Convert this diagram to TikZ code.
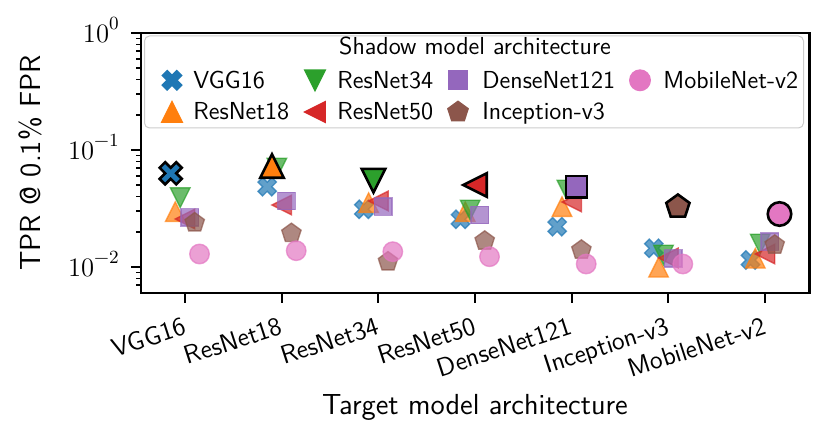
\documentclass[tikz,border=0pt]{standalone}
\usepackage{fontspec}
\definecolor{tabblue}{HTML}{1F77B4}
\definecolor{taborange}{HTML}{FF7F0E}
\definecolor{tabgreen}{HTML}{2CA02C}
\definecolor{tabred}{HTML}{D62728}
\definecolor{tabpurple}{HTML}{9467BD}
\definecolor{tabbrown}{HTML}{8C564B}
\definecolor{tabpink}{HTML}{E377C2}
\definecolor{leggray}{gray}{0.8}
% marker shapes (unit size, local y points down)
\newcommand\shpX[1]{\path[#1,rotate=45] (-0.1667,-0.5) -- (0.1667,-0.5) -- (0.1667,-0.1667) -- (0.5,-0.1667) -- (0.5,0.1667) -- (0.1667,0.1667) -- (0.1667,0.5) -- (-0.1667,0.5) -- (-0.1667,0.1667) -- (-0.5,0.1667) -- (-0.5,-0.1667) -- (-0.1667,-0.1667) -- cycle;}
\newcommand\shpU[1]{\path[#1] (0,-0.5) -- (0.5,0.5) -- (-0.5,0.5) -- cycle;}
\newcommand\shpD[1]{\path[#1] (0,0.5) -- (0.5,-0.5) -- (-0.5,-0.5) -- cycle;}
\newcommand\shpL[1]{\path[#1] (-0.5,0) -- (0.5,-0.5) -- (0.5,0.5) -- cycle;}
\newcommand\shpS[1]{\path[#1] (-0.45,-0.45) rectangle (0.45,0.45);}
\newcommand\shpP[1]{\path[#1] (270:0.52) -- (342:0.52) -- (54:0.52) -- (126:0.52) -- (198:0.52) -- cycle;}
\newcommand\shpO[1]{\path[#1] (0,0) circle[radius=0.5];}
\newcommand\mkn[4]{\begin{scope}[shift={(#2,#3)},scale=19.5]\csname shp#1\endcsname{nrm=#4}\end{scope}}
\newcommand\mkh[4]{\begin{scope}[shift={(#2,#3)},scale=23.5]\csname shp#1\endcsname{hil=#4}\end{scope}}
\newcommand\mkl[4]{\begin{scope}[shift={(#2,#3)},scale=20.5]\csname shp#1\endcsname{lgd=#4}\end{scope}}
\newcommand\tpow[1]{10\raisebox{0.5em}{\fontsize{9.3}{10}\selectfont #1}}
\tikzset{
  nrm/.style={fill=#1, draw=#1, fill opacity=0.7, draw opacity=0.7, line width=0.7pt, line join=miter},
  hil/.style={fill=#1, draw=black, line width=1.3pt, line join=miter},
  lgd/.style={fill=#1, draw=#1, line width=0.7pt, line join=miter},
  spine/.style={line width=1.25pt, line cap=rect},
  majortick/.style={line width=1.1pt},
  minortick/.style={line width=0.8pt},
  legtext/.style={font=\sffamily\fontsize{12.3}{14}\selectfont, inner sep=0pt, anchor=base west},
  axlabel/.style={font=\sffamily\fontsize{14.5}{16}\selectfont, inner sep=0pt, anchor=base},
  xtl/.style={font=\sffamily\fontsize{13}{15}\selectfont, inner sep=0pt, anchor=north east, rotate=18},
  ytl/.style={font=\rmfamily\fontsize{13.3}{15}\selectfont, inner sep=0pt, anchor=base east},
}
\begin{document}
\begin{tikzpicture}[x=0.5pt,y=-0.5pt]
\useasboundingbox (0,0) rectangle (831,442);
% ---- data markers ----
% target VGG16
\mkn{U}{175.3}{211.7}{taborange}
\mkn{D}{180.2}{197.7}{tabgreen}
\mkn{L}{185}{219}{tabred}
\mkn{S}{189.8}{217.3}{tabpurple}
\mkn{P}{194.7}{222.7}{tabbrown}
\mkn{O}{199.5}{254}{tabpink}
\mkh{X}{170.7}{173.3}{tabblue}
% target ResNet18
\mkn{X}{267.2}{186.7}{tabblue}
\mkn{D}{276.9}{168}{tabgreen}
\mkn{L}{281.7}{205}{tabred}
\mkn{S}{286.5}{201}{tabpurple}
\mkn{P}{291.4}{233.3}{tabbrown}
\mkn{O}{296.2}{250.7}{tabpink}
\mkh{U}{272}{166}{taborange}
% target ResNet34
\mkn{X}{363.8}{209.3}{tabblue}
\mkn{U}{368.6}{202.7}{taborange}
\mkn{L}{378.3}{201}{tabred}
\mkn{S}{383.1}{206.7}{tabpurple}
\mkn{P}{388}{261.7}{tabbrown}
\mkn{O}{392.8}{251.7}{tabpink}
\mkh{D}{373.5}{180.7}{tabgreen}
% target ResNet50
\mkn{X}{460.5}{219.3}{tabblue}
\mkn{U}{465.3}{211.7}{taborange}
\mkn{D}{470.2}{210}{tabgreen}
\mkn{S}{479.8}{215}{tabpurple}
\mkn{P}{484.7}{241}{tabbrown}
\mkn{O}{489.5}{256.7}{tabpink}
\mkh{L}{475}{185}{tabred}
% target DenseNet121
\mkn{X}{557.2}{226.7}{tabblue}
\mkn{U}{562}{206.7}{taborange}
\mkn{D}{566.9}{190}{tabgreen}
\mkn{L}{571.7}{202}{tabred}
\mkn{P}{581.4}{250}{tabbrown}
\mkn{O}{586.2}{264}{tabpink}
\mkh{S}{576.5}{186.7}{tabpurple}
% target Inception-v3
\mkn{X}{653.8}{248.3}{tabblue}
\mkn{U}{658.6}{267.3}{taborange}
\mkn{D}{663.5}{255}{tabgreen}
\mkn{L}{668.3}{258}{tabred}
\mkn{S}{673.1}{258.3}{tabpurple}
\mkn{O}{682.8}{264}{tabpink}
\mkh{P}{677.9}{206.7}{tabbrown}
% target MobileNet-v2
\mkn{X}{750.5}{260}{tabblue}
\mkn{U}{755.3}{258.3}{taborange}
\mkn{D}{760.2}{244}{tabgreen}
\mkn{L}{765}{254}{tabred}
\mkn{S}{769.8}{241.7}{tabpurple}
\mkn{P}{774.7}{245}{tabbrown}
\mkh{O}{779.5}{214}{tabpink}
% ---- axes ----
\foreach \d in {150,267} \foreach \m in {2,...,9} \draw[minortick] (141,{\d-117*log10(\m)}) -- ++(-5.5,0);
\foreach \m in {7,8,9} \draw[minortick] (141,{384-117*log10(\m)}) -- ++(-5.5,0);
\foreach \yy in {33,150,267} \draw[majortick] (141,\yy) -- ++(-10,0);
\foreach \i in {0,...,6} \draw[majortick] ({185+96.667*\i},293) -- ++(0,10);
\draw[spine] (141,33) rectangle (809.5,293);
% ---- legend ----
\draw[leggray, line width=0.5pt, fill=white, fill opacity=0.8, rounded corners=2.5pt] (144.5,36) rectangle (803.5,128);
\node[font=\sffamily\fontsize{12.3}{14}\selectfont, inner sep=0pt, anchor=base] (legtitle) at (475,55) {Shadow model architecture};
\mkl{X}{172}{80.3}{tabblue}
\mkl{U}{172}{112}{taborange}
\mkl{D}{315}{80.3}{tabgreen}
\mkl{L}{315}{112}{tabred}
\mkl{S}{458}{80.3}{tabpurple}
\mkl{P}{458}{112}{tabbrown}
\mkl{O}{640}{80.3}{tabpink}
\node[legtext] (l1) at (193,88.5) {VGG16};
\node[legtext] (l2) at (193,119.5) {ResNet18};
\node[legtext] (l3) at (337,88.5) {ResNet34};
\node[legtext] (l4) at (337,119.5) {ResNet50};
\node[legtext] (l5) at (482,88.5) {DenseNet121};
\node[legtext] (l6) at (482,119.5) {Inception-v3};
\node[legtext] (l7) at (663,88.5) {MobileNet-v2};
% ---- tick labels ----
\node[ytl] (yt0) at (119,43) {\tpow{0}};
\node[ytl] (yt1) at (119,160) {\tpow{−1}};
\node[ytl] (yt2) at (119,277) {\tpow{−2}};
\node[xtl] (xt0) at (182,316) {VGG16};
\node[xtl] (xt1) at (278.7,316) {ResNet18};
\node[xtl] (xt2) at (375.3,316) {ResNet34};
\node[xtl] (xt3) at (472,316) {ResNet50};
\node[xtl] (xt4) at (568.7,316) {DenseNet121};
\node[xtl] (xt5) at (665.3,316) {Inception-v3};
\node[xtl] (xt6) at (762,316) {MobileNet-v2};
% ---- axis labels ----
\node[axlabel] (xlab) at (475,415) {Target model architecture};
\node[axlabel, rotate=90] (ylab) at (40,163) {TPR @ 0.1\% FPR};
\end{tikzpicture}
\end{document}
